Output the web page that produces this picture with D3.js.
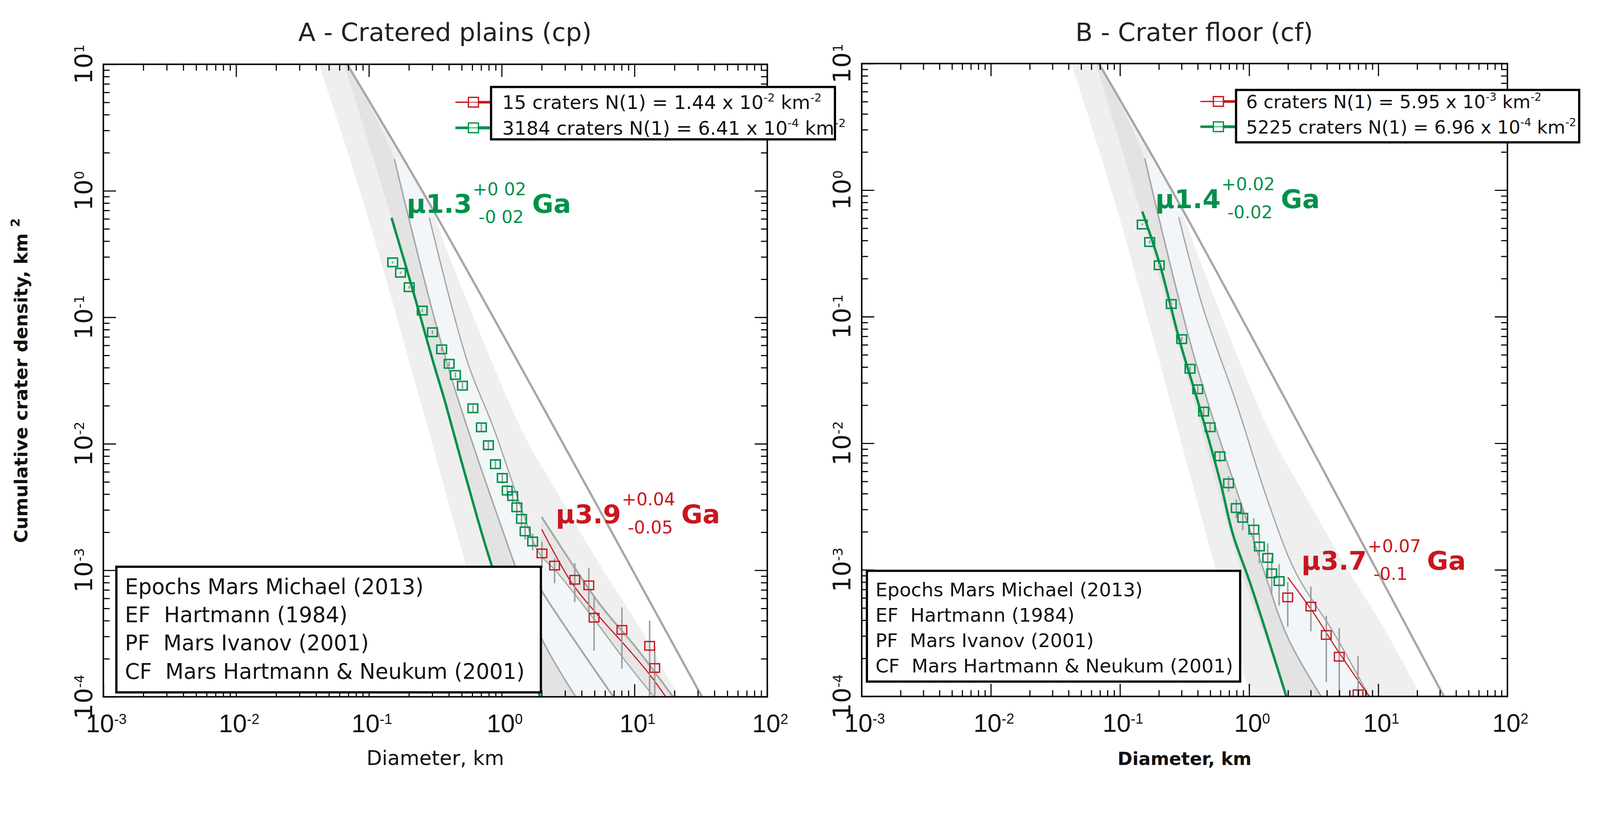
<!DOCTYPE html>
<html>
<head>
<meta charset="utf-8">
<script src="https://cdn.jsdelivr.net/npm/d3@7/dist/d3.min.js"></script>
<style>
  html, body { margin: 0; padding: 0; overflow: hidden; background: #fff; }
  svg { display: block; width: 100vw; height: 100vh; }
  text { font-family: "DejaVu Sans", sans-serif; }
</style>
</head>
<body>
<script>
// ---------- panel A : cratered plains ----------
// green: 3184 craters, small diameters
const aGreenD = [0.151,0.173,0.201,0.252,0.301,0.353,0.402,0.448,0.506,0.607,0.703,0.794,0.897,1.01,1.10,1.21,1.30,1.41,1.50,1.71]
const aGreenN = [0.272,0.225,0.173,0.113,0.0762,0.0558,0.0429,0.0350,0.0288,0.0191,0.0135,0.00975,0.00690,0.00537,0.00427,0.00386,0.00315,0.00255,0.00203,0.00169]
// relative error bar half length
const aGreenErr = [0.02,0.02,0.025,0.03,0.035,0.04,0.045,0.05,0.055,0.06,0.07,0.08,0.09,0.1,0.11,0.11,0.12,0.13,0.14,0.15]
// red: 15 craters, large diameters
const aRedD = [2.01,2.50,3.55,4.53,4.96,8.04,13.0,14.2]
const aRedN = [1.36e-3,1.09e-3,8.42e-4,7.61e-4,4.22e-4,3.38e-4,2.53e-4,1.69e-4]
const aRedLo = [1.04e-3,7.9e-4,5.6e-4,4.6e-4,2.31e-4,1.67e-4,1e-5,1e-5]
const aRedHi = [1.68e-3,1.24e-3,1.14e-3,1.04e-3,6.2e-4,5.1e-4,4.0e-4,2.5e-4]
// fitted isochrons [D, N]
const aGreenFit = [[0.148,0.612],[0.212,0.170],[0.304,0.0447],[0.374,0.0216],[0.537,0.00545],[0.847,0.00107],[1.94,1.01e-4]]
const aRedFit = [[2.0,2.11e-3],[3.39,7.87e-4],[5.35,4.37e-4],[8.81,2.44e-4],[13.0,1.50e-4],[17.2,1.0e-4]]

// ---------- panel B : crater floor ----------
const bGreenD = [0.1487,0.1697,0.2012,0.2493,0.3005,0.3485,0.3999,0.444,0.4982,0.594,0.693,0.795,0.892,1.087,1.20,1.393,1.495,1.707]
const bGreenN = [0.535,0.389,0.255,0.126,0.0665,0.0388,0.0267,0.0178,0.01338,0.0079,0.00483,0.00308,0.00258,0.00208,0.00153,1.243e-3,9.39e-4,8.16e-4]
const bGreenErr = [0.02,0.025,0.03,0.035,0.04,0.05,0.06,0.07,0.08,0.1,0.14,0.17,0.2,0.23,0.26,0.3,0.33,0.36]
const bRedD = [1.99,3.006,3.956,4.984,6.97]
const bRedN = [6.06e-4,5.13e-4,3.06e-4,2.06e-4,1.04e-4]
const bRedLo = [3.56e-4,3.27e-4,1.30e-4,1e-5,1e-5]
const bRedHi = [8.02e-4,7.38e-4,4.33e-4,3.46e-4,2.09e-4]
const bGreenFit = [[0.1487,0.677],[0.2035,0.258],[0.2907,0.0636],[0.4044,0.0207],[0.594,0.0051],[0.75,1.9e-3],[1.03,7.6e-4],[1.94,1.0e-4]]
const bRedFit = [[1.99,8.73e-4],[3.09,4.71e-4],[4.80,2.34e-4],[8.5,1.0e-4]]

// ---------- epoch overlay (same chronology on both panels) ----------
const satLine = [[0.0686,10],[0.2675,0.894],[1.935,0.02166],[32.2,1e-4]]
const lightLeft = [[0.042,10],[0.0966,0.659],[0.506,1.38e-3],[1.02,1e-4]]
const lightRight = [[0.0686,10],[0.2675,0.894],[0.42,0.27],[1.43,0.0125],[2.4,4.8e-3],[5.5,1.1e-3],[11,3.5e-4],[21.5,1e-4]]
const darkLeft = [[0.065,10],[0.148,0.612],[0.212,0.170],[0.304,0.0447],[0.374,0.0216],[0.537,0.00545],[0.847,0.00107],[1.94,1.01e-4]]
const alphaLine = [[0.1556,1.782],[0.3837,0.04467],[1.265,1.074e-3],[2.0,2.89e-4],[3.61,1e-4]]
const satTop = [[0.327,0.612],[0.1813,1.782]]
const aBeta = [[0.285,0.612],[0.551,0.0447],[0.876,0.0130],[1.429,2.94e-3],[1.91,1.37e-3],[2.60,9.7e-4],[5.36,3.69e-4],[7.94,2.12e-4],[14.0,1e-4]]
const aGamma = [[2.0,2.64e-3],[5.36,5.57e-4],[10.3,2.44e-4],[19.5,1e-4]]
const aDelta = [[1.8,8.5e-4],[2.0,6.87e-4],[6.93,1e-4]]
const bBeta = [[0.285,0.612],[0.439,0.118],[0.782,0.0219],[1.43,3.26e-3],[2.3,9.5e-4],[4.5,3.2e-4],[8.5,1e-4]]

// ---------- axes ----------
const xDecades = [1e-3,1e-2,1e-1,1,10,100]
const xExp = ['-3','-2','-1','0','1','2']
const yDecades = [1e-4,1e-3,1e-2,1e-1,1,10]
const yExp = ['-4','-3','-2','-1','0','1']

// ---------- legend text ----------
const epochText = ['Epochs Mars Michael (2013)','EF  Hartmann (1984)','PF  Mars Ivanov (2001)','CF  Mars Hartmann & Neukum (2001)']
const aLegCount = ['15','3184'], aLegN1 = ['1.44','6.41'], aLegExp = ['-2','-4']
const bLegCount = ['6','5225'], bLegN1 = ['5.95','6.96'], bLegExp = ['-3','-4']

const green = '#00914a'
const red = '#c8161e'
const grey = '#a7a7a7'

const panels = [
  { id:'A', left:278, right:2064, top:173, bottom:1875, title:'A - Cratered plains (cp)',
    xLabelSize:54, xLabelWeight:'normal',
    gD:aGreenD, gN:aGreenN, gE:aGreenErr, rD:aRedD, rN:aRedN, rLo:aRedLo, rHi:aRedHi,
    gFit:aGreenFit, rFit:aRedFit, beta:aBeta, gamma:aGamma, delta:aDelta,
    leg:{ x:1321, y:234, w:925, h:141, rows:[275,344], tx:1351, fs:51, count:aLegCount, n1:aLegN1, ex:aLegExp },
    ep:{ x:313, y:1525, w:1142, h:338, tx:336, fs:57, base:1598, step:76 },
    ages:[ { t:'μ1.3', sup:'+0 02', sub:'-0 02', at:[0.1925,0.668], c:green },
           { t:'μ3.9', sup:'+0.04', sub:'-0.05', at:[2.553,2.355e-3], c:red } ] },
  { id:'B', left:2318, right:4055, top:171, bottom:1874, title:'B - Crater floor (cf)',
    xLabelSize:48, xLabelWeight:'bold',
    gD:bGreenD, gN:bGreenN, gE:bGreenErr, rD:bRedD, rN:bRedN, rLo:bRedLo, rHi:bRedHi,
    gFit:bGreenFit, rFit:bRedFit, beta:bBeta, gamma:null, delta:null,
    leg:{ x:3325, y:242, w:923, h:141, rows:[273,341], tx:3352, fs:49, count:bLegCount, n1:bLegN1, ex:bLegExp },
    ep:{ x:2332, y:1536, w:1004, h:298, tx:2355, fs:51, base:1605, step:68 },
    ages:[ { t:'μ1.4', sup:'+0.02', sub:'-0.02', at:[0.188,0.721], c:green },
           { t:'μ3.7', sup:'+0.07', sub:'-0.1', at:[2.543,1.0e-3], c:red } ] }
]

const svg = d3.select('body').append('svg')
  .attr('viewBox','0 0 4304 2128')
  .attr('preserveAspectRatio','xMidYMin meet')
const defs = svg.append('defs')

const minorOf = (decades) => {
  let out = []
  decades.slice(0,-1).forEach(d => { for (let k = 2; k <= 9; k++) out.push(d*k) })
  return out
}

const drawPanel = (p) => {
  const x = d3.scaleLog().domain([1e-3,1e2]).range([p.left,p.right])
  const y = d3.scaleLog().domain([1e-4,1e1]).range([p.bottom,p.top])
  const line = d3.line().x(d => x(d[0])).y(d => y(d[1])).curve(d3.curveCatmullRom.alpha(0.5))
  const poly = (...pieces) => pieces.map((pc,i) => i ? line(pc).replace(/^M/,'L') : line(pc)).join('') + 'Z'
  const rev = a => a.slice().reverse()

  defs.append('clipPath').attr('id','clip'+p.id)
    .append('rect').attr('x',p.left).attr('y',p.top)
    .attr('width',p.right-p.left).attr('height',p.bottom-p.top)

  const g = svg.append('g').attr('clip-path','url(#clip'+p.id+')')

  // shaded epoch bands
  g.append('path').attr('d',poly(lightLeft,rev(lightRight))).attr('fill','#efefef')
  g.append('path').attr('d',poly(darkLeft,rev([[0.0686,10]].concat(alphaLine)))).attr('fill','#e3e3e3')
  g.append('path').attr('d',poly(alphaLine,rev(p.beta),satTop)).attr('fill','#f2f6f9')
  if (p.gamma) {
    g.append('path').attr('d',poly(p.gamma,rev(p.beta.slice(4)))).attr('fill','#e6e6e6')
  }

  // isochrons
  g.append('path').attr('d',line(satLine)).attr('fill','none').attr('stroke',grey).attr('stroke-width',6)
  g.append('path').attr('d',line(alphaLine)).attr('fill','none').attr('stroke',grey).attr('stroke-width',4)
  g.append('path').attr('d',line(p.beta)).attr('fill','none').attr('stroke',grey).attr('stroke-width',3.5)
  if (p.gamma) g.append('path').attr('d',line(p.gamma)).attr('fill','none').attr('stroke',grey).attr('stroke-width',5)
  if (p.delta) g.append('path').attr('d',line(p.delta)).attr('fill','none').attr('stroke',grey).attr('stroke-width',5)

  // fits
  g.append('path').attr('d',line(p.gFit)).attr('fill','none').attr('stroke',green).attr('stroke-width',6.5)
  g.append('path').attr('d',line(p.rFit)).attr('fill','none').attr('stroke',red).attr('stroke-width',3)

  // error bars
  g.selectAll('.gerr').data(p.gD).enter().append('line')
    .attr('x1',(d) => x(d)).attr('x2',(d) => x(d))
    .attr('y1',(d,i) => y(p.gN[i]*(1+p.gE[i])))
    .attr('y2',(d,i) => y(p.gN[i]*(1-p.gE[i])))
    .attr('stroke','#9c9c9c').attr('stroke-width',4)
  g.selectAll('.rerr').data(p.rD).enter().append('line')
    .attr('x1',(d) => x(d)).attr('x2',(d) => x(d))
    .attr('y1',(d,i) => y(p.rHi[i])).attr('y2',(d,i) => y(p.rLo[i]))
    .attr('stroke','#9c9c9c').attr('stroke-width',4)

  // squares
  g.selectAll('.gsq').data(p.gD).enter().append('rect')
    .attr('x',(d) => x(d)-13).attr('y',(d,i) => y(p.gN[i])-11.5)
    .attr('width',26).attr('height',23)
    .attr('fill','none').attr('stroke',green).attr('stroke-width',4)
  g.selectAll('.rsq').data(p.rD).enter().append('rect')
    .attr('x',(d) => x(d)-13).attr('y',(d,i) => y(p.rN[i])-11.5)
    .attr('width',26).attr('height',23)
    .attr('fill','none').attr('stroke',red).attr('stroke-width',3.5)

  // ticks, inward on all four sides
  const tickStyle = (s) => {
    s.select('.domain').remove()
    s.selectAll('line').attr('stroke','#000').attr('stroke-width',3)
  }
  const xMinor = minorOf(xDecades), yMinor = minorOf(yDecades)
  const axes = [
    [d3.axisBottom(x), 'translate(0,'+p.bottom+')', xDecades, xMinor],
    [d3.axisTop(x), 'translate(0,'+p.top+')', xDecades, xMinor],
    [d3.axisLeft(y), 'translate('+p.left+',0)', yDecades, yMinor],
    [d3.axisRight(y), 'translate('+p.right+',0)', yDecades, yMinor]
  ]
  axes.forEach(a => {
    svg.append('g').attr('transform',a[1])
      .call(a[0].tickValues(a[3]).tickSize(-17).tickFormat('')).call(tickStyle)
    svg.append('g').attr('transform',a[1])
      .call(a[0].tickValues(a[2]).tickSize(-34).tickFormat('')).call(tickStyle)
  })

  // frame
  svg.append('rect').attr('x',p.left).attr('y',p.top)
    .attr('width',p.right-p.left).attr('height',p.bottom-p.top)
    .attr('fill','none').attr('stroke','#000').attr('stroke-width',4)

  // tick labels
  xDecades.forEach((v,i) => {
    const t = svg.append('text').attr('x',x(v)+8).attr('y',p.bottom+95)
      .attr('text-anchor','middle').attr('font-size',68)
      .style('font-family','"Liberation Sans", Arial, sans-serif').attr('fill','#111')
    t.append('tspan').text('10')
    t.append('tspan').attr('dy',-22).attr('font-size',38).text(xExp[i])
  })
  yDecades.forEach((v,i) => {
    const t = svg.append('text')
      .attr('transform','translate('+(p.left-30)+','+y(v)+') rotate(-90)')
      .attr('text-anchor','middle').attr('font-size',66).attr('fill','#111')
    t.append('tspan').text('10')
    t.append('tspan').attr('dy',-22).attr('font-size',36).text(yExp[i])
  })

  // titles
  svg.append('text').attr('x',(p.left+p.right)/2+26).attr('y',110)
    .attr('text-anchor','middle').attr('font-size',68).attr('fill','#222').text(p.title)
  svg.append('text').attr('x',(p.left+p.right)/2).attr('y',2058)
    .attr('text-anchor','middle').attr('font-size',p.xLabelSize)
    .attr('font-weight',p.xLabelWeight).attr('fill','#111').text('Diameter, km')

  // age labels
  p.ages.forEach(a => {
    const px = x(a.at[0]), py = y(a.at[1])
    const main = svg.append('text').attr('x',px).attr('y',py).attr('fill',a.c)
      .attr('font-size',70).attr('font-weight','bold').text(a.t)
    const sx = px + main.node().getComputedTextLength() + 2
    const sup = svg.append('text').attr('x',sx).attr('y',py-48).attr('fill',a.c)
      .attr('font-size',47).style('white-space','pre').text(a.sup)
    svg.append('text').attr('x',sx+16).attr('y',py+27).attr('fill',a.c)
      .attr('font-size',47).style('white-space','pre').text(a.sub)
    svg.append('text').attr('x',sx+sup.node().getComputedTextLength()+16).attr('y',py)
      .attr('fill',a.c).attr('font-size',70).attr('font-weight','bold').text('Ga')
  })

  // legend, top right
  const L = p.leg
  const legColor = [red, green], thinW = [3.5, 7], thickW = [7, 8]
  L.rows.forEach((ry,i) => {
    svg.append('line').attr('x1',L.x-96).attr('x2',L.x-62).attr('y1',ry).attr('y2',ry)
      .attr('stroke',legColor[i]).attr('stroke-width',thinW[i])
    svg.append('line').attr('x1',L.x-34).attr('x2',L.x).attr('y1',ry).attr('y2',ry)
      .attr('stroke',legColor[i]).attr('stroke-width',thickW[i])
    svg.append('rect').attr('x',L.x-61).attr('y',ry-13).attr('width',27).attr('height',26)
      .attr('fill','none').attr('stroke',legColor[i]).attr('stroke-width',3.5)
    svg.append('line').attr('x1',L.x-61).attr('x2',L.x-34).attr('y1',ry).attr('y2',ry)
      .attr('stroke',legColor[i]).attr('stroke-width',2)
  })
  svg.append('rect').attr('x',L.x).attr('y',L.y).attr('width',L.w).attr('height',L.h)
    .attr('fill','#fff').attr('stroke','#000').attr('stroke-width',6)
  L.rows.forEach((ry,i) => {
    const t = svg.append('text').attr('x',L.tx).attr('y',ry+18).attr('font-size',L.fs).attr('fill','#111')
    t.append('tspan').text(L.count[i]+' craters N(1) = '+L.n1[i]+' x 10')
    t.append('tspan').attr('dy',-20).attr('font-size',L.fs*0.6).text(L.ex[i])
    t.append('tspan').attr('dy',20).text(' km')
    t.append('tspan').attr('dy',-20).attr('font-size',L.fs*0.6).text('-2')
  })

  // epochs legend, bottom left
  const E = p.ep
  svg.append('rect').attr('x',E.x).attr('y',E.y).attr('width',E.w).attr('height',E.h)
    .attr('fill','#fff').attr('stroke','#000').attr('stroke-width',6)
  epochText.forEach((s,i) => {
    svg.append('text').attr('x',E.tx).attr('y',E.base+i*E.step).attr('font-size',E.fs)
      .attr('fill','#111').style('white-space','pre').text(s)
  })
}

panels.forEach(drawPanel)

// y axis title (panel A only)
const yt = svg.append('text')
  .attr('transform','translate(74,1024) rotate(-90)')
  .attr('text-anchor','middle').attr('font-size',49).attr('font-weight','bold').attr('fill','#111')
  .style('white-space','pre')
yt.append('tspan').text('Cumulative crater density, km ')
yt.append('tspan').attr('dy',-22).attr('font-size',34).text('2')
</script>
</body>
</html>
